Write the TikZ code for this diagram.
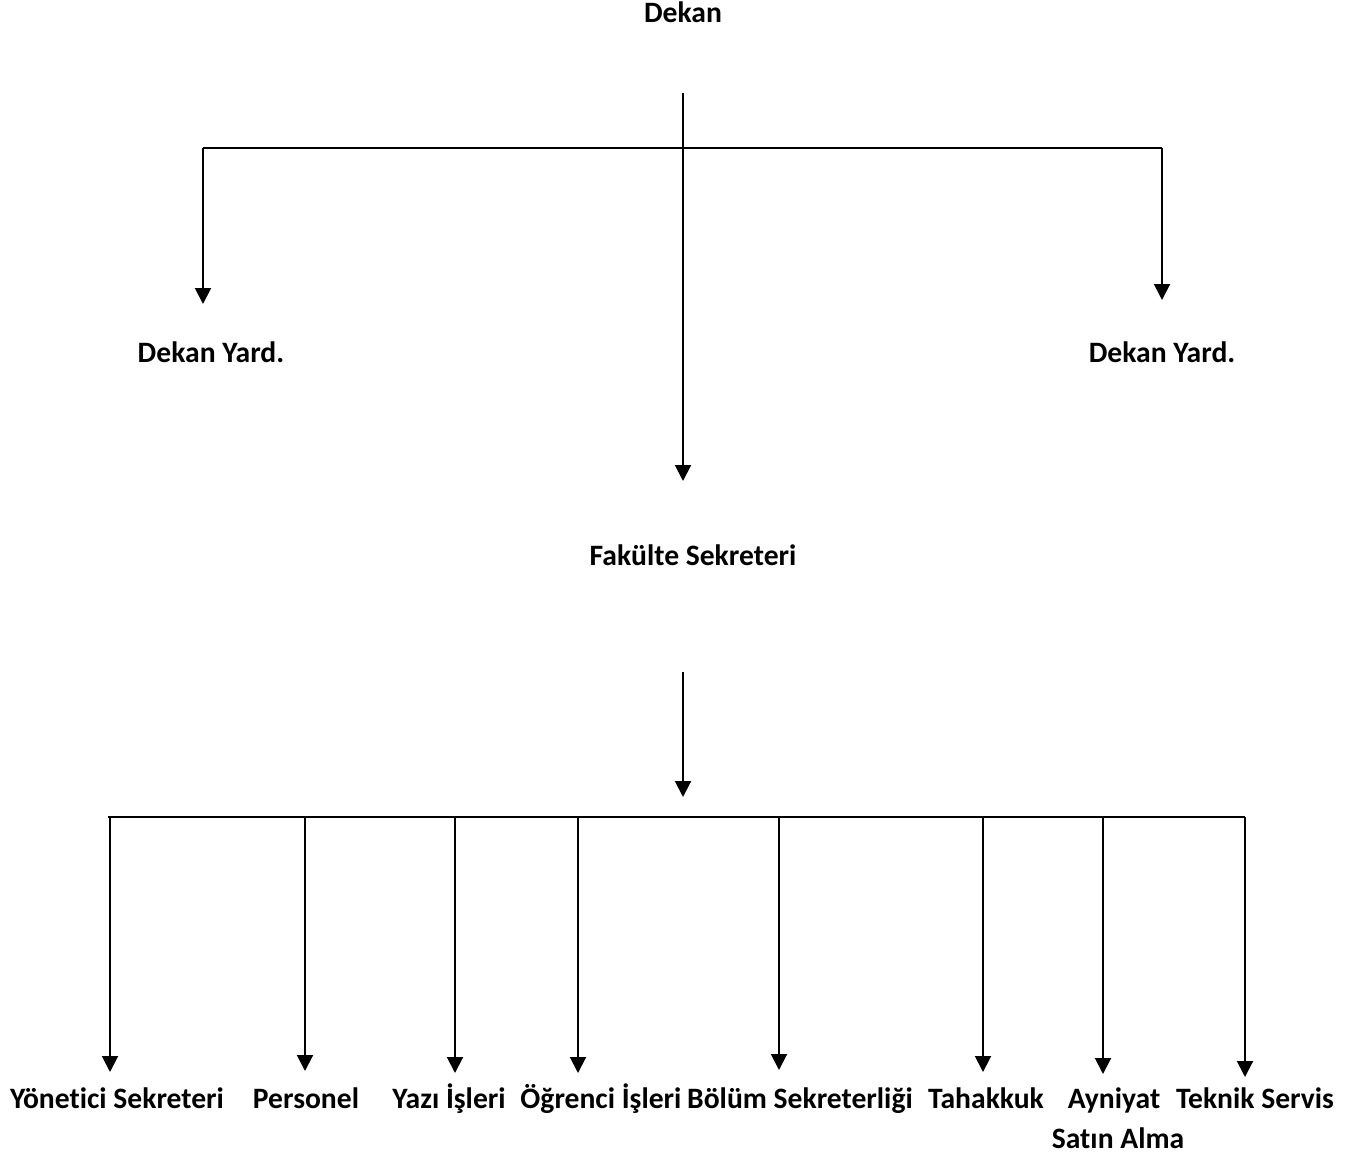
\documentclass[tikz,border=0pt]{standalone}
\usepackage{fontspec}
\setmainfont{Carlito}[Ligatures=NoCommon]
\usetikzlibrary{arrows.meta}
\begin{document}
\begin{tikzpicture}[x=1pt,y=-1pt,
  lbl/.style={anchor=base,inner sep=0pt,font=\fontsize{29.6}{35}\selectfont\bfseries},
  ln/.style={line width=2pt,draw=black},
  arr/.style={ln,-{Triangle[width=16pt,length=16pt]}}]
\useasboundingbox (0,0) rectangle (1367,1161);
% labels
\node[lbl] (dekan) at (683,23) {Dekan};
\node[lbl] (dyl) at (211,362) {Dekan Yard.};
\node[lbl] (dyr) at (1162,362) {Dekan Yard.};
\node[lbl] (fs) at (693,565) {Fakülte Sekreteri};
\node[lbl] (b1) at (117,1108) {Yönetici Sekreteri};
\node[lbl] (b2) at (306,1108) {Personel};
\node[lbl] (b3) at (449,1108) {Yazı İşleri};
\node[lbl] (b4) at (601,1108) {Öğrenci İşleri};
\node[lbl] (b5) at (800,1108) {Bölüm Sekreterliği};
\node[lbl] (b6) at (986,1108) {Tahakkuk};
\node[lbl] (b7) at (1114,1108) {Ayniyat};
\node[lbl] (b8) at (1255,1108) {Teknik Servis};
\node[lbl] (b9) at (1118,1148) {Satın Alma};
% junction coordinates
\coordinate (d0) at (683,93);
\coordinate (tL) at (203,148);
\coordinate (tR) at (1162,148);
\coordinate (tipL) at (203,304);
\coordinate (tipR) at (1162,300);
\coordinate (tipF) at (683,481);
\coordinate (f0) at (683,672);
\coordinate (tipS) at (683,797);
\coordinate (hL) at (108,817);
\coordinate (hR) at (1245,817);
\coordinate (t1) at (110,1072);
\coordinate (t2) at (305,1071);
\coordinate (t3) at (455,1073);
\coordinate (t4) at (578,1073);
\coordinate (t5) at (779,1070);
\coordinate (t6) at (983,1072);
\coordinate (t7) at (1103,1074);
\coordinate (t8) at (1245,1077);
% connectors
\draw[arr] (d0) -- (tipF);
\draw[ln] (tL) -- (tR);
\draw[arr] (tL) -- (tipL);
\draw[arr] (tR) -- (tipR);
\draw[arr] (f0) -- (tipS);
\draw[ln] (hL) -- (hR);
\foreach \t in {t1,t2,t3,t4,t5,t6,t7,t8}{
  \draw[arr] (\t |- hL) -- (\t);
}
\end{tikzpicture}
\end{document}
